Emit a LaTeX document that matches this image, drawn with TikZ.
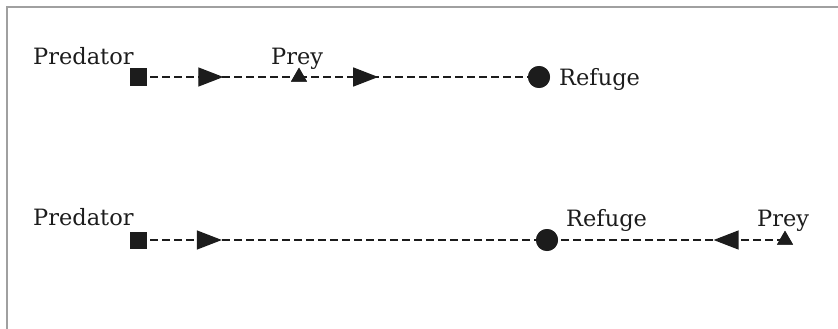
\documentclass[tikz,border=0pt]{standalone}
\usepackage{fontspec}
\setmainfont{DejaVu Serif}
\usetikzlibrary{shapes.geometric,arrows.meta,decorations.markings}
\definecolor{ink}{HTML}{1C1C1C}
\definecolor{framegray}{HTML}{A0A0A0}
\begin{document}
\begin{tikzpicture}[x=1pt,y=-1pt,
  predator/.style={rectangle,fill=ink,inner sep=0pt,minimum size=17pt},
  prey/.style={regular polygon,regular polygon sides=3,fill=ink,inner sep=0pt,minimum size=18.5pt},
  refuge/.style={circle,fill=ink,inner sep=0pt,minimum size=22pt},
  lbl/.style={inner sep=0pt,anchor=base west,text=ink,font=\fontsize{22.5}{27}\selectfont},
  path/.style={draw=ink,line width=1.3pt,dash pattern=on 8pt off 4pt},
  headat/.style={postaction={decorate,decoration={markings,
      mark=at position #1 with {\arrow[ink,solid]{Triangle[width=19pt,length=25pt]}}}}}
]
\useasboundingbox (0,0) rectangle (838,329);
% frame (open on the right and bottom)
\draw[framegray,line width=1.5pt] (7,329) -- (7,7) -- (838,7);

% --- first scenario: prey between predator and refuge
\node[predator] (pred1) at (138,77) {};
\node[prey] (prey1) at (299,77) {};
\node[refuge] (ref1) at (539,77) {};
\draw[path,headat=0.53] (pred1.center) -- (prey1.center);
\draw[path,headat=0.33] (prey1.center) -- (ref1.center);
\node[predator] at (pred1) {};
\node[prey] at (prey1) {};
\node[refuge] at (ref1) {};
\node[lbl] (t1a) at (33,65) {Predator};
\node[lbl] (t1b) at (271,65) {Prey};
\node[lbl] (t1c) at (559,85) {Refuge};

% --- second scenario: refuge between predator and prey
\node[predator] (pred2) at (138,240) {};
\node[refuge] (ref2) at (547,240) {};
\node[prey] (prey2) at (785,240) {};
\draw[path,headat=0.205] (pred2.center) -- (ref2.center);
\draw[path,headat=0.30] (prey2.center) -- (ref2.center);
\node[predator] at (pred2) {};
\node[refuge] at (ref2) {};
\node[prey] at (prey2) {};
\node[lbl] (t2a) at (33,225) {Predator};
\node[lbl] (t2b) at (566,226) {Refuge};
\node[lbl] (t2c) at (757,226) {Prey};
\end{tikzpicture}
\end{document}
